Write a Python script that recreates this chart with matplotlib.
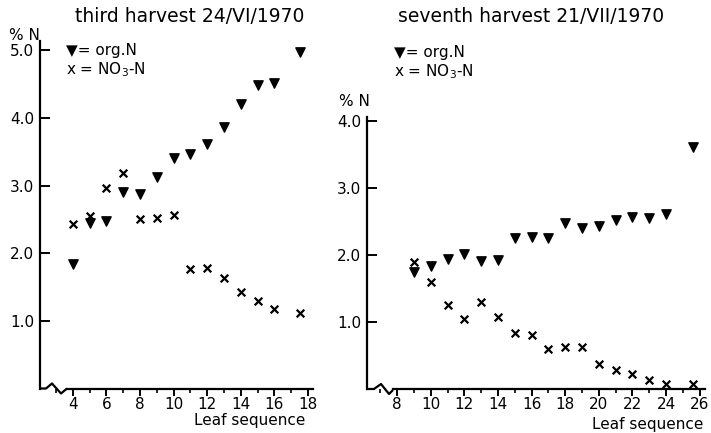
import numpy as np
import matplotlib
matplotlib.use("Agg")
import matplotlib.pyplot as plt
from matplotlib.ticker import MultipleLocator, FormatStrFormatter

# third harvest 24/VI/1970
leaf_3 = [4, 5, 6, 7, 8, 9, 10, 11, 12, 13, 14, 15, 16, 17.5]
org_3 = [1.84, 2.44, 2.48, 2.9, 2.88, 3.13, 3.41, 3.47, 3.62, 3.87, 4.21, 4.48, 4.51, 4.97]
no3_3 = [2.43, 2.55, 2.97, 3.18, 2.5, 2.52, 2.56, 1.77, 1.78, 1.63, 1.42, 1.3, 1.18, 1.12]

# seventh harvest 21/VII/1970
leaf_7 = [9, 10, 11, 12, 13, 14, 15, 16, 17, 18, 19, 20, 21, 22, 23, 24, 25.6]
org_7 = [1.74, 1.83, 1.94, 2.01, 1.91, 1.93, 2.26, 2.27, 2.25, 2.48, 2.4, 2.43,
         2.52, 2.56, 2.55, 2.61, 3.61]
no3_7 = [1.89, 1.59, 1.26, 1.04, 1.3, 1.08, 0.83, 0.81, 0.59, 0.62, 0.63, 0.38,
         0.29, 0.23, 0.13, 0.08, 0.07]

W, H = 711, 433
fig = plt.figure(figsize=(W / 100, H / 100), dpi=100)
FS = 11


def px(x, y):
    return x / W, 1 - y / H


def setup(ax, xlim, ylim, xticks, yticks, xstart, brk):
    ax.set_xlim(*xlim)
    ax.set_ylim(*ylim)
    for s in ["top", "right"]:
        ax.spines[s].set_visible(False)
    ax.spines["bottom"].set_bounds(xstart, xlim[1])
    ax.spines["left"].set_linewidth(1.6)
    ax.spines["bottom"].set_linewidth(1.6)
    ax.set_xticks(xticks)
    ax.xaxis.set_minor_locator(MultipleLocator(1))
    ax.set_yticks(yticks)
    ax.yaxis.set_major_formatter(FormatStrFormatter("%.1f"))
    ax.tick_params(axis="y", direction="in", length=7, width=1.4, labelsize=FS, pad=4)
    ax.tick_params(axis="x", which="major", direction="out", length=5, width=1.4,
                   labelsize=FS, pad=1)
    ax.tick_params(axis="x", which="minor", direction="out", length=3, width=1.2)
    # axis break squiggle (pixel offsets from corner)
    sx = (xlim[1] - xlim[0]) / (ax.get_position().width * W)
    sy = (ylim[1] - ylim[0]) / (ax.get_position().height * H)
    bx = [xlim[0] + p[0] * sx for p in brk]
    by = [p[1] * sy for p in brk]
    ax.plot(bx, by, color="black", lw=1.6, clip_on=False, solid_capstyle="butt")


ax1 = fig.add_axes([40 / W, 1 - 388.5 / H, 273 / W, 347 / H])
setup(ax1, (2.04, 18.3), (0, 5.13), range(4, 19, 2), [1, 2, 3, 4, 5], 3.65,
      [(0, 0), (6, 0), (12, 5), (21, -5), (27, 0)])
ax1.scatter(leaf_3, org_3, marker="v", s=45, color="black", zorder=3)
ax1.scatter(leaf_3, no3_3, marker="x", s=30, color="black", linewidths=1.6, zorder=3)

ax2 = fig.add_axes([367 / W, 1 - 389 / H, 338.5 / W, 272 / H])
setup(ax2, (6.2, 26.35), (0, 4.06), range(8, 27, 2), [1, 2, 3, 4], 7.75,
      [(0, 0), (7, 0), (14, 5), (22, -5), (26, -1)])
ax2.scatter(leaf_7, org_7, marker="v", s=45, color="black", zorder=3)
ax2.scatter(leaf_7, no3_7, marker="x", s=30, color="black", linewidths=1.6, zorder=3)

fig.text(*px(190, 16), "third harvest 24/VI/1970", ha="center", va="center", fontsize=13.5)
fig.text(*px(531, 17), "seventh harvest 21/VII/1970", ha="center", va="center", fontsize=13.5)

fig.text(*px(24, 35), "% N", ha="center", va="center", fontsize=FS)
fig.text(*px(354, 102), "% N", ha="center", va="center", fontsize=FS)

fig.text(*px(66, 50), "▼= org.N", ha="left", va="center", fontsize=FS)
fig.text(*px(66, 70), "x = NO$_3$-N", ha="left", va="center", fontsize=FS)
fig.text(*px(394, 52), "▼= org.N", ha="left", va="center", fontsize=FS)
fig.text(*px(394, 72), "x = NO$_3$-N", ha="left", va="center", fontsize=FS)

fig.text(*px(305, 421), "Leaf sequence", ha="right", va="center", fontsize=FS)
fig.text(*px(703, 424), "Leaf sequence", ha="right", va="center", fontsize=FS)

fig.savefig("out.png", dpi=100)
